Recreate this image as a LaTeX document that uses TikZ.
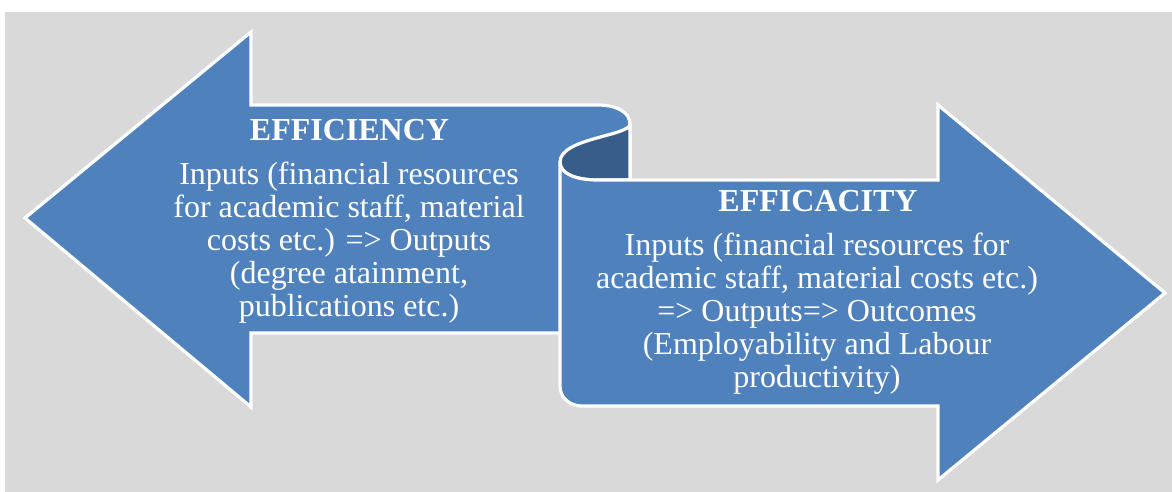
\documentclass[tikz,border=0pt]{standalone}
\usepackage{fontspec}
\setmainfont{Liberation Serif}
\definecolor{panelgrey}{HTML}{D9D9D9}
\definecolor{arrowblue}{HTML}{4F81BD}
\definecolor{curlblue}{HTML}{385D8A}
\begin{document}
\begin{tikzpicture}[x=1pt,y=-1pt,
  arrowface/.style={fill=arrowblue,draw=white,line width=3.2pt,line join=miter},
  curlface/.style={fill=curlblue,draw=white,line width=3.2pt,line join=round},
  headtext/.style={text=white,font=\fontsize{32}{33}\selectfont\bfseries,inner sep=0pt},
  bodytext/.style={text=white,font=\fontsize{32}{33}\selectfont,align=center,inner sep=0pt}]
\useasboundingbox (0,0) rectangle (1172,492);
\fill[white] (0,0) rectangle (1172,492);
\fill[panelgrey] (5,12) rectangle (1172,492);

% left-pointing arrow whose body curls over at its right end
\path[arrowface] (25,218) -- (251,32) -- (251,105) -- (598,105)
  .. controls (616,105) and (630,112) .. (630,124)
  -- (630,180) -- (572,180) -- (572,333) -- (251,333) -- (251,407) -- cycle;

% back side of the curl
\path[curlface] (630,124) .. controls (630,136) and (560,138) .. (560,162)
  .. controls (560,174) and (576,180) .. (598,180) -- (630,180) -- cycle;

% right-pointing arrow
\path[arrowface] (560,162) .. controls (560,174) and (576,180) .. (598,180)
  -- (938,180) -- (938,105) -- (1165,293) -- (938,480) -- (938,406)
  -- (582,406) .. controls (570,406) and (560,398) .. (560,386) -- cycle;

% texts
\node[headtext] (effhead) at (349.5,130) {EFFICIENCY};
\node[bodytext] (effbody) at (349,243) {Inputs (financial resources\\for academic staff, material\\costs etc.) => Outputs\\(degree atainment,\\publications etc.)};
\node[headtext] (efchead) at (818,201) {EFFICACITY};
\node[bodytext] (efcbody) at (817,314) {Inputs (financial resources for\\academic staff, material costs etc.)\\=> Outputs=> Outcomes\\(Employability and Labour\\productivity)};
\end{tikzpicture}
\end{document}
